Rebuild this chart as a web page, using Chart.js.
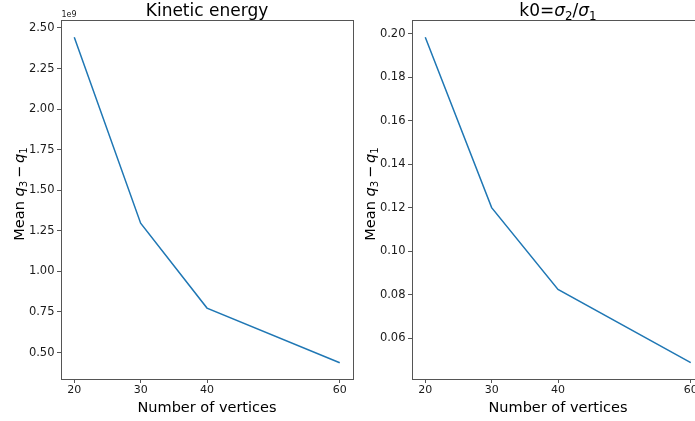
<!DOCTYPE html>
<html>
<head>
<meta charset="utf-8">
<script src="https://cdn.jsdelivr.net/npm/chart.js@4"></script>
<style>
  html, body { margin: 0; padding: 0; background: #fff; overflow: hidden; }
  .panel { position: absolute; top: 0; height: 421px; overflow: hidden; }
  #leftPanel { left: 0; width: 360px; }
  #rightPanel { left: 360px; width: 335px; }
</style>
</head>
<body>
<div class="panel" id="leftPanel"><canvas id="keChart" width="360" height="421"></canvas></div>
<div class="panel" id="rightPanel"><canvas id="k0Chart" width="360" height="421"></canvas></div>
<script>
(function() {
  const vertices = [20, 30, 40, 60];
  const vertexTicks = [20, 30, 40, 60];

  // spread of the kinetic energy (raw units, shown with a 1e9 offset)
  const keSpread = [2.443e9, 1.297e9, 0.774e9, 0.437e9];
  const keTicks = [0.50e9, 0.75e9, 1.00e9, 1.25e9, 1.50e9, 1.75e9, 2.00e9, 2.25e9, 2.50e9];

  // spread of k0 = sigma2 / sigma1
  const k0Spread = [0.1983, 0.1200, 0.0824, 0.0487];
  const k0Ticks = [0.06, 0.08, 0.10, 0.12, 0.14, 0.16, 0.18, 0.20];

  const FONT = '"DejaVu Sans", sans-serif';
  const SPINE = '#555555';
  const INK = '#1a1a1a';
  const BLUE = '#1f77b4';

  // draw a run of text pieces (plain, italic, subscript, gaps) centred on cx
  function richText(ctx, parts, size, cx, baseY) {
    const pieces = parts.map(p => {
      if (p.gap) return { t: '', font: '', w: p.gap * size, dy: 0 };
      const s = p.sub ? size * 0.7 : size;
      const font = (p.italic ? 'italic ' : '') + s + 'px ' + FONT;
      ctx.font = font;
      return { t: p.t, font: font, w: ctx.measureText(p.t).width, dy: p.sub ? size * 0.22 : 0 };
    });
    const total = pieces.reduce((a, p) => a + p.w, 0);
    let x = cx - total / 2;
    ctx.textAlign = 'left';
    ctx.textBaseline = 'alphabetic';
    pieces.forEach(p => {
      if (p.t) {
        ctx.font = p.font;
        ctx.fillText(p.t, x, baseY + p.dy);
      }
      x += p.w;
    });
  }

  const yLabel = [
    { t: 'Mean ' }, { t: 'q', italic: true }, { t: '3', sub: true },
    { gap: 0.2 }, { t: '\u2212' }, { gap: 0.2 }, { t: 'q', italic: true }, { t: '1', sub: true }
  ];

  // frame, title, axis labels and offset text
  const decorations = {
    id: 'decorations',
    afterDraw(chart, args, opts) {
      const ctx = chart.ctx;
      const a = chart.chartArea;
      const mid = (a.left + a.right) / 2;
      ctx.save();
      ctx.strokeStyle = SPINE;
      ctx.lineWidth = 1;
      ctx.strokeRect(Math.round(a.left) + 0.5, Math.round(a.top) - 0.5,
        Math.round(a.right - a.left), Math.round(a.bottom - a.top) + 1);

      ctx.fillStyle = '#000';
      richText(ctx, opts.title, 17, mid, 16);
      richText(ctx, [{ t: 'Number of vertices' }], 14.5, mid, 412);

      ctx.save();
      ctx.translate(a.left - 37, (a.top + a.bottom) / 2 - 6);
      ctx.rotate(-Math.PI / 2);
      richText(ctx, yLabel, 14.5, 0, 0);
      ctx.restore();

      if (opts.offset) {
        ctx.font = '8px ' + FONT;
        ctx.fillStyle = INK;
        ctx.textAlign = 'left';
        ctx.fillText(opts.offset, a.left + 0.5, 17);
      }
      ctx.restore();
    }
  };

  function lineChart(el, values, yTicks, yMin, yMax, fmt, yWidth, padRight, title, offset) {
    return new Chart(el, {
      type: 'line',
      data: {
        labels: vertices,
        datasets: [{
          data: vertices.map((v, i) => ({ x: v, y: values[i] })),
          borderColor: BLUE,
          borderWidth: 1.5,
          pointRadius: 0,
          tension: 0,
          fill: false
        }]
      },
      options: {
        responsive: false,
        animation: false,
        devicePixelRatio: 1,
        layout: { padding: { top: 21, right: padRight, bottom: 0, left: 0 } },
        plugins: {
          legend: { display: false },
          tooltip: { enabled: false },
          decorations: { title: title, offset: offset }
        },
        scales: {
          x: {
            type: 'linear',
            min: 18,
            max: 62,
            afterBuildTicks: s => { s.ticks = vertexTicks.map(v => ({ value: v })); },
            afterFit: s => { s.height = 42; },
            border: { display: false },
            grid: { drawOnChartArea: false, drawTicks: true, tickLength: 4, color: SPINE },
            ticks: { color: INK, padding: 1, maxRotation: 0, font: { family: FONT, size: 11 } }
          },
          y: {
            type: 'linear',
            min: yMin,
            max: yMax,
            afterBuildTicks: s => { s.ticks = yTicks.map(v => ({ value: v })); },
            afterFit: s => { s.width = yWidth; },
            border: { display: false },
            grid: { drawOnChartArea: false, drawTicks: true, tickLength: 4, color: SPINE },
            ticks: { color: INK, padding: 2.5, font: { family: FONT, size: 11.5 }, callback: fmt }
          }
        }
      },
      plugins: [decorations]
    });
  }

  lineChart(document.getElementById('keChart'), keSpread, keTicks, 0.337e9, 2.543e9,
    v => (v / 1e9).toFixed(2), 61, 7,
    [{ t: 'Kinetic energy' }], '1e9');

  lineChart(document.getElementById('k0Chart'), k0Spread, k0Ticks, 0.0412, 0.2058,
    v => v.toFixed(2), 52, 16,
    [{ t: 'k0=' }, { t: '\u03c3', italic: true }, { t: '2', sub: true }, { t: '/' },
     { t: '\u03c3', italic: true }, { t: '1', sub: true }], null);
})();
</script>
</body>
</html>
